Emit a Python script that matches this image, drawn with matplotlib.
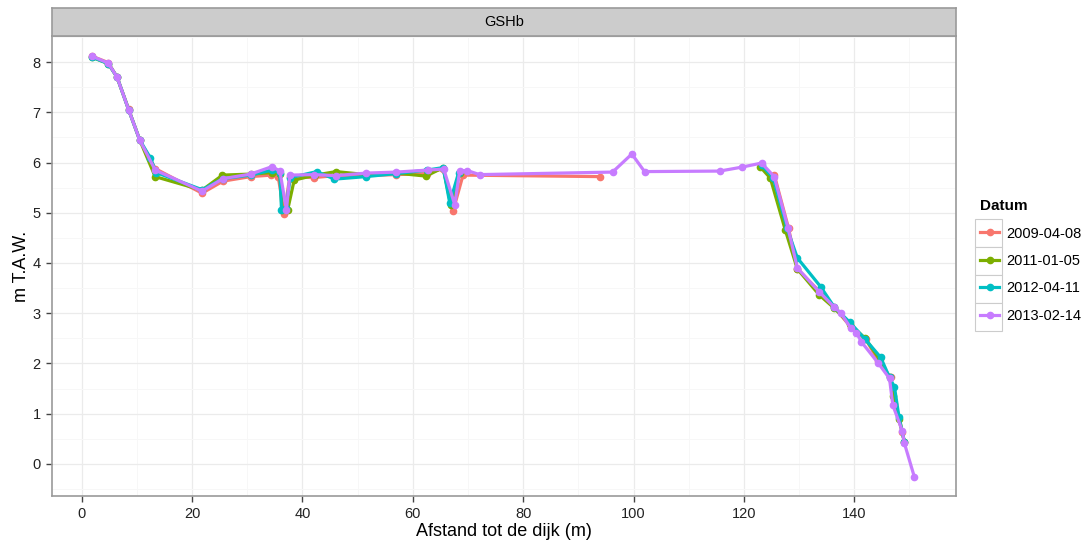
import numpy as np
import matplotlib
matplotlib.use("Agg")
import matplotlib.pyplot as plt
from matplotlib.lines import Line2D
from matplotlib.patches import Rectangle

plt.rcParams['font.family'] = ['Liberation Sans', 'DejaVu Sans']

# Data, NaN breaks the line
dates = ['2009-04-08', '2011-01-05', '2012-04-11', '2013-02-14']
colors = ['#F8766D', '#7CAE00', '#00BFC4', '#C77CFF']

x_2009 = [1.8, 4.8, 6.4, 8.5, 10.5, 13.3, 21.8, 25.6, 30.6, 34.3, 35.6, 36.7, 37.7,
          42.0, 46.0, 51.5, 57.0, 62.5, 65.5, 67.3, 69.1, 94.0, np.nan,
          125.5, 128.1, 129.7, 134.0, 136.4, 139.4, 142.1, 144.4, 146.6, 147.2,
          148.7, 149.1]
y_2009 = [8.12, 7.99, 7.70, 7.06, 6.45, 5.88, 5.39, 5.63, 5.72, 5.75, 5.72, 4.98, 5.72,
          5.70, 5.74, 5.74, 5.76, 5.78, 5.88, 5.04, 5.75, 5.72, np.nan,
          5.76, 4.69, 3.88, 3.40, 3.12, 2.72, 2.48, 2.05, 1.72, 1.20,
          0.64, 0.43]

x_2011 = [1.8, 4.8, 6.4, 8.5, 10.5, 13.3, 21.8, 25.5, 30.6, 34.5, 35.9, 36.3, 37.3,
          38.5, 42.3, 46.1, 51.5, 57.0, 62.4, 65.5, 66.9, 68.5, np.nan,
          123.0, 124.8, 127.5, 129.7, 133.7, 136.4, 139.2, 142.0, 144.6, 146.4,
          147.1, 148.2, 149.1]
y_2011 = [8.10, 7.97, 7.70, 7.05, 6.45, 5.72, 5.45, 5.75, 5.77, 5.80, 5.78, 5.05, 5.05,
          5.65, 5.75, 5.82, 5.76, 5.79, 5.73, 5.90, 5.15, 5.80, np.nan,
          5.91, 5.69, 4.66, 3.88, 3.36, 3.10, 2.78, 2.50, 2.08, 1.72,
          1.35, 0.90, 0.43]

x_2012 = [1.8, 4.8, 6.4, 8.5, 10.5, 12.4, 13.5, 21.8, 25.6, 30.6, 34.5, 35.9, 36.2,
          37.0, 37.8, 42.6, 45.8, 51.5, 57.0, 62.6, 65.5, 66.7, 68.3, np.nan,
          123.2, 125.3, 127.8, 129.7, 133.9, 136.4, 139.2, 142.0, 144.8, 146.4,
          147.3, 148.1, 149.1]
y_2012 = [8.10, 7.97, 7.70, 7.05, 6.45, 6.10, 5.80, 5.46, 5.68, 5.75, 5.85, 5.80, 5.06,
          5.10, 5.70, 5.82, 5.67, 5.72, 5.78, 5.85, 5.90, 5.19, 5.80, np.nan,
          5.95, 5.70, 4.70, 4.10, 3.53, 3.12, 2.82, 2.48, 2.12, 1.72,
          1.53, 0.94, 0.43]

x_2013 = [1.8, 4.8, 6.4, 8.5, 10.5, 13.3, 21.8, 25.6, 30.6, 34.5, 35.9, 37.1, 37.7,
          42.1, 46.0, 51.5, 57.0, 62.7, 65.6, 67.6, 68.5, 69.9, 72.1, 96.2, 99.7,
          102.0, 115.6, 119.7, 123.2, 125.5, 128.0, 129.7, 133.7, 136.4, 137.6,
          139.4, 140.4, 141.3, 144.4, 146.4, 147.0, 148.7, 149.1, 150.9]
y_2013 = [8.12, 7.98, 7.70, 7.05, 6.45, 5.85, 5.43, 5.68, 5.77, 5.92, 5.83, 5.06, 5.75,
          5.76, 5.74, 5.79, 5.81, 5.85, 5.87, 5.16, 5.84, 5.84, 5.76, 5.81, 6.17,
          5.82, 5.83, 5.91, 5.99, 5.72, 4.70, 3.90, 3.42, 3.12, 3.00,
          2.70, 2.61, 2.43, 2.00, 1.70, 1.17, 0.66, 0.41, -0.26]

series = [(x_2009, y_2009), (x_2011, y_2011), (x_2012, y_2012), (x_2013, y_2013)]

W, H = 1089, 546
fig = plt.figure(figsize=(W / 100, H / 100), dpi=100)
fig.patch.set_facecolor('white')

# panel
ax = fig.add_axes([51.7 / W, 1 - 496 / H, (956 - 51.7) / W, (496 - 36) / H])
for (xs, ys), c, d in zip(series, colors, dates):
    ax.plot(xs, ys, '-', color=c, lw=2.3, marker='o', ms=4.5, label=d,
            solid_joinstyle='round')

ax.set_xlim(-5.45, 158.45)
ax.set_ylim(-0.64, 8.52)
ax.set_xticks(np.arange(0, 141, 20))
ax.set_xticks(np.arange(10, 160, 20), minor=True)
ax.set_yticks(np.arange(0, 9, 1))
ax.set_yticks(np.arange(-0.5, 8.6, 1), minor=True)
ax.grid(True, which='major', color='#EBEBEB', lw=0.9)
ax.grid(True, which='minor', color='#F7F7F7', lw=0.7)
ax.set_axisbelow(True)
for s in ax.spines.values():
    s.set_color('#9A9A9A')
    s.set_linewidth(1.2)
ax.tick_params(which='major', length=4, width=1, color='#444444',
               labelsize=10.5, labelcolor='#222222', pad=4)
ax.tick_params(which='minor', length=0)
ax.set_xlabel('Afstand tot de dijk (m)', fontsize=13, labelpad=1)
ax.set_ylabel('m T.A.W.', fontsize=13, labelpad=2)

# facet strip
sax = fig.add_axes([51.7 / W, 1 - 36 / H, (956 - 51.7) / W, 28 / H])
sax.set_facecolor('#CCCCCC')
sax.set_xticks([])
sax.set_yticks([])
for s in sax.spines.values():
    s.set_color('#9A9A9A')
    s.set_linewidth(1.2)
sax.text(0.5, 0.5, 'GSHb', ha='center', va='center', fontsize=10.5,
         transform=sax.transAxes)

# legend key boxes (ggplot style)
for i in range(len(dates)):
    fig.patches.append(Rectangle((975 / W, 1 - (247 + 28 * i) / H), 27 / W, 28 / H,
                                 transform=fig.transFigure, facecolor='white',
                                 edgecolor='#CCCCCC', lw=0.8, zorder=0))

handles = [Line2D([0], [0], color=c, lw=2.3, marker='o', ms=4.5) for c in colors]
leg = fig.legend(handles, dates, title='Datum', loc='upper left',
                 bbox_to_anchor=(967 / W, 1 - 186 / H), frameon=False,
                 fontsize=10.5, title_fontsize=11, handlelength=1.3,
                 handletextpad=0.5, labelspacing=0.92, alignment='left')
leg.get_title().set_fontweight('bold')

fig.savefig('out.png', dpi=100)
